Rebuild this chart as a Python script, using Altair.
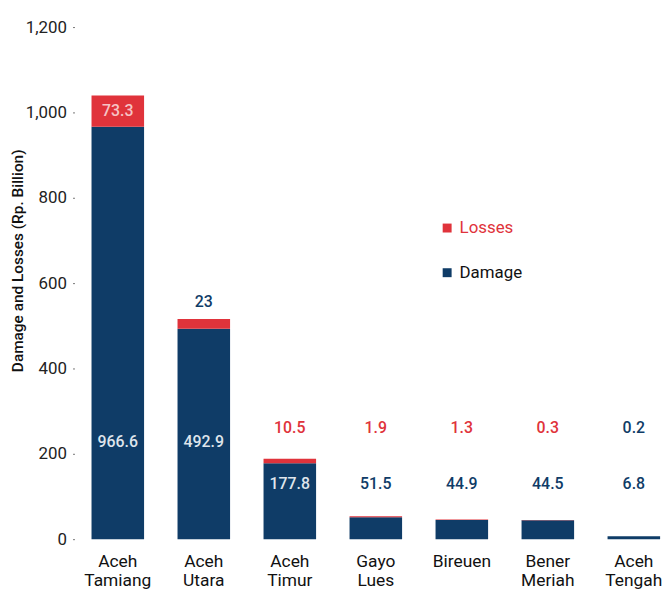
import altair as alt
import pandas as pd

regions = ["Aceh Tamiang", "Aceh Utara", "Aceh Timur", "Gayo Lues", "Bireuen", "Bener Meriah", "Aceh Tengah"]
damage = [966.6, 492.9, 177.8, 51.5, 44.9, 44.5, 6.8]
losses = [73.3, 23.0, 10.5, 1.9, 1.3, 0.3, 0.2]
loss_text = ["73.3", "23", "10.5", "1.9", "1.3", "0.3", "0.2"]

NAVY = "#0f3c67"
RED = "#e0333b"
FONT = "Roboto"

rows = []
for i, r in enumerate(regions):
    rows.append({"region": r, "type": "Damage", "value": damage[i], "ord": 0})
    rows.append({"region": r, "type": "Losses", "value": losses[i], "ord": 1})
bars_df = pd.DataFrame(rows)

# label placement (derived)
lab = []
for i, r in enumerate(regions):
    d, l = damage[i], losses[i]
    big = d > 300
    lab.append({"region": r, "text": f"{d:.1f}",
                "y": 228 if big else 130,
                "col": "#dfe5ec" if d > 150 else NAVY})
    if l > 50:
        ly, lc = d + l / 2, "#f6c3c5"
    elif big:
        ly, lc = d + l + 40, NAVY
    else:
        ly, lc = 260, NAVY if l < 0.25 else RED
    lab.append({"region": r, "text": loss_text[i], "y": ly, "col": lc})
lab_df = pd.DataFrame(lab)

xenc = alt.X("region:N", sort=regions, title=None,
             scale=alt.Scale(paddingInner=0.389, paddingOuter=0.11, align=0.9),
             axis=alt.Axis(labelExpr="split(datum.label, ' ')", labelAngle=0,
                           labelFontSize=17.5, labelFont=FONT, labelFontWeight=400,
                           labelColor="#111", labelLineHeight=19, labelPadding=14,
                           ticks=False, domain=False, labelBaseline="top"))

bars = alt.Chart(bars_df).mark_bar().encode(
    x=xenc,
    y=alt.Y("value:Q", stack="zero", title="Damage and Losses (Rp. Billion)",
            scale=alt.Scale(domain=[0, 1200]),
            axis=alt.Axis(values=[0, 200, 400, 600, 800, 1000, 1200], format=",.0f",
                          grid=False, domain=False, tickSize=2, tickColor="#777",
                          labelFontSize=17, labelFont=FONT, labelColor="#222",
                          labelPadding=6, titleFont=FONT, titleFontSize=15.5,
                          titleFontWeight=500, titleColor="#111",
                          titleX=-57, titleY=235, titleBaseline="middle", titleAlign="center")),
    color=alt.Color("type:N", scale=alt.Scale(domain=["Losses", "Damage"], range=[RED, NAVY]),
                    legend=alt.Legend(title=None, orient="none", legendX=367, legendY=194,
                                      symbolType="square", symbolSize=81, labelFontSize=17,
                                      labelFont=FONT, rowPadding=27, symbolStrokeWidth=0,
                                      labelColor=alt.ExprRef(f"datum.label == 'Losses' ? '{RED}' : '#111'"))),
    order=alt.Order("ord:Q", sort="ascending"),
)

texts = alt.Chart(lab_df).mark_text(font=FONT, fontSize=16, fontWeight=500, baseline="middle").encode(
    x=alt.X("region:N", sort=regions),
    y=alt.Y("y:Q"),
    text="text:N",
    color=alt.Color("col:N", scale=None),
)

chart = alt.layer(bars, texts).properties(
    width=592, height=516,
    autosize=alt.AutoSizeParams(type="none"),
    padding={"left": 67, "top": 17, "right": 0, "bottom": 48},
).configure_view(stroke=None)

chart.save("out.html", embed_options={"renderer": "svg", "actions": False})
